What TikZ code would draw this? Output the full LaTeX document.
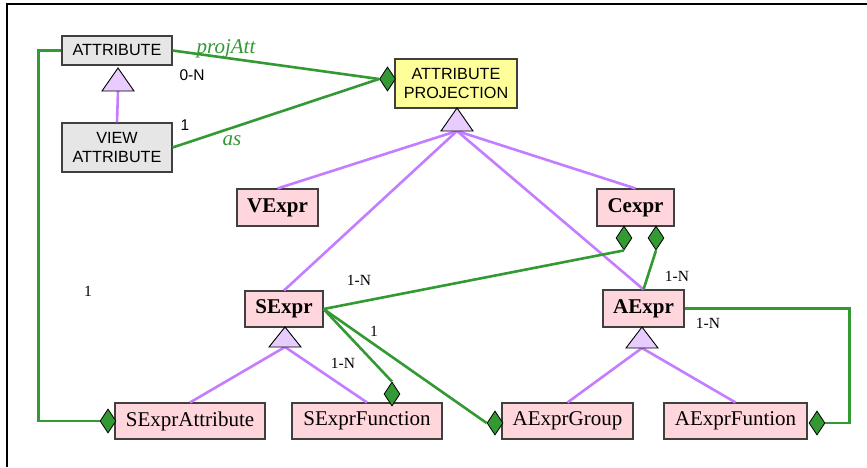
\documentclass[tikz,border=0pt]{standalone}
\usepackage{fontspec}
\setmainfont{Liberation Serif}
\setsansfont{Liberation Sans}
\usetikzlibrary{shapes.geometric}
\definecolor{aggc}{HTML}{339933}
\definecolor{genc}{HTML}{C47DFF}
\definecolor{trif}{HTML}{E8CCFF}
\definecolor{pinkf}{HTML}{FFD6DC}
\definecolor{grayf}{HTML}{E6E6E6}
\definecolor{yelf}{HTML}{FFFF99}
\tikzset{
  box/.style={draw=black!75, line width=1.1pt, inner sep=0pt, anchor=center},
  graybox/.style={box, fill=grayf, font=\sffamily\fontsize{16.2}{18.5}\selectfont, align=center},
  yelbox/.style={box, fill=yelf, font=\sffamily\fontsize{16.2}{18.5}\selectfont, align=center},
  pinkb/.style={box, fill=pinkf, font=\bfseries\fontsize{21}{24}\selectfont},
  pinkn/.style={box, fill=pinkf, font=\fontsize{21}{24}\selectfont},
  agg/.style={draw=aggc, line width=2.6pt},
  gen/.style={draw=genc, line width=2.6pt},
  dia/.style={diamond, draw=black, line width=0.8pt, fill=aggc, inner sep=0pt, minimum width=16pt, minimum height=24pt},
  tri/.style={draw=black, line width=0.9pt, fill=trif, line join=miter},
  mult/.style={font=\fontsize{15.5}{18}\selectfont, anchor=base},
  multsf/.style={font=\sffamily\fontsize{15.5}{18}\selectfont, anchor=base},
  role/.style={font=\itshape\fontsize{21}{24}\selectfont, text=aggc, anchor=base}
}
\begin{document}
\begin{tikzpicture}[x=1pt,y=-1pt]
\useasboundingbox (0,0) rectangle (867,467);
\fill[white] (0,0) rectangle (867,467);
% frame
\draw[line width=1.5pt, black] (7,467) -- (7,4) -- (867,4);

% boxes
\node[graybox, minimum width=110pt, minimum height=29pt] (attr) at (117,50.5) {ATTRIBUTE};
\node[graybox, minimum width=110pt, minimum height=49pt] (va) at (117,147.5) {VIEW\\ATTRIBUTE};
\node[yelbox, minimum width=122pt, minimum height=49pt] (ap) at (456,83.5) {ATTRIBUTE\\PROJECTION};
\node[pinkb, minimum width=81pt, minimum height=37pt] (ve) at (277.5,207.5) {VExpr};
\node[pinkb, minimum width=78pt, minimum height=36pt] (sx) at (284,309) {SExpr};
\node[pinkb, minimum width=77pt, minimum height=37pt] (ce) at (635.5,207.5) {Cexpr};
\node[pinkb, minimum width=81pt, minimum height=37pt] (ax) at (643.5,308.5) {AExpr};
\node[pinkn, minimum width=150pt, minimum height=36pt] (sa) at (190,421) {SExprAttribute};
\node[pinkn, minimum width=150pt, minimum height=36pt] (sf) at (367,421) {SExprFunction};
\node[pinkn, minimum width=131pt, minimum height=36pt] (ag) at (567.5,421) {AExprGroup};
\node[pinkn, minimum width=143pt, minimum height=36pt] (af) at (735.5,421) {AExprFuntion};

% triangle coordinates
\coordinate (tA) at (118,68);   \coordinate (tAb) at (118,91);
\coordinate (tP) at (457,108);  \coordinate (tPb) at (457,131);
\coordinate (tS) at (285,327);  \coordinate (tSb) at (285,347);
\coordinate (tX) at (642,327);  \coordinate (tXb) at (642,348);

% generalization lines
\draw[gen] (tAb) -- (va.north);
\draw[gen] (tPb) -- (ve.north);
\draw[gen] (tPb) -- (sx.north);
\draw[gen] (tPb) -- (ce.north);
\draw[gen] (tPb) -- (ax.north);
\draw[gen] (tSb) -- (sa.north);
\draw[gen] (tSb) -- (sf.north);
\draw[gen] (tXb) -- (ag.north);
\draw[gen] (tXb) -- (af.north);

% triangles
\draw[tri] (tA) -- ++(16,23) -- ++(-32,0) -- cycle;
\draw[tri] (tP) -- ++(16,23) -- ++(-32,0) -- cycle;
\draw[tri] (tS) -- ++(16,20) -- ++(-32,0) -- cycle;
\draw[tri] (tX) -- ++(16,21) -- ++(-32,0) -- cycle;

% diamonds
\node[dia] (dP) at (387.5,79) {};
\node[dia] (dC1) at (624,238) {};
\node[dia] (dC2) at (656,238) {};
\node[dia] (dSA) at (108,421) {};
\node[dia] (dSF) at (392,394) {};
\node[dia] (dAG) at (495,423) {};
\node[dia] (dAF) at (817,423) {};

% aggregation lines
\draw[agg] (attr.east) -- (dP.west);
\draw[agg] (va.east) -- (dP.west);
\draw[agg] (sx.east) -- (dC1.south);
\draw[agg] (dC2.south) -- (ax.north);
\draw[agg] (sx.east) -- (dSF.north);
\draw[agg] (sx.east) -- (dAG.west);
\draw[agg] (attr.west) -- ++(-23,0) |- (dSA.west);
\draw[agg] (ax.east) -- ++(165,0) |- (dAF.east);

% labels
\node[role] (lpa) at (226,53) {projAtt};
\node[role] (las) at (232,145) {as};
\node[multsf] (l0n) at (192,80) {0-N};
\node[multsf] (l1a) at (185,130) {1};
\node[mult] (l1n1) at (359,285) {1-N};
\node[mult] (l1b) at (374,336) {1};
\node[mult] (l1n2) at (343,368) {1-N};
\node[mult] (l1n3) at (677,281) {1-N};
\node[mult] (l1n4) at (708,328) {1-N};
\node[mult] (l1c) at (88,296) {1};
\end{tikzpicture}
\end{document}
